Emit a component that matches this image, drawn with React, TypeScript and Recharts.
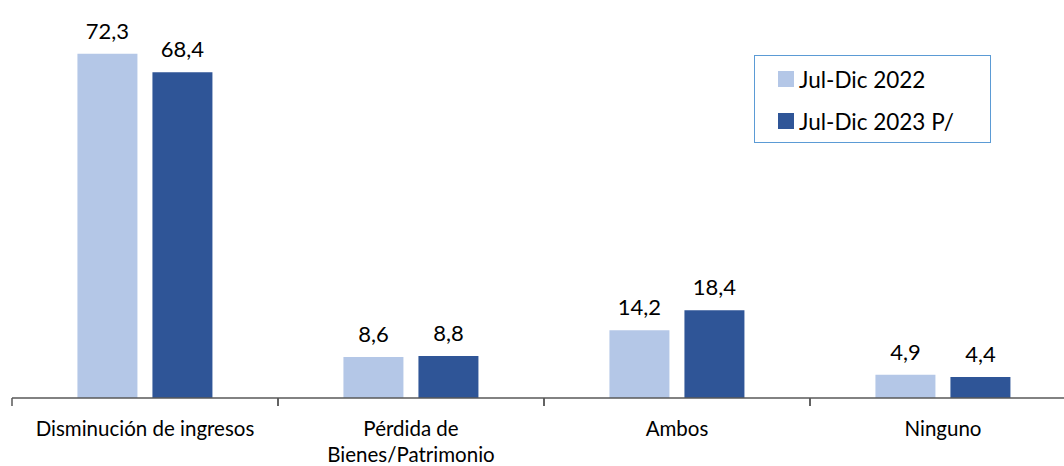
import { BarChart, Bar, XAxis, YAxis, LabelList } from "recharts";

const categories = [
  "Disminución de ingresos",
  "Pérdida de\nBienes/Patrimonio",
  "Ambos",
  "Ninguno",
];
const serie2022 = [72.3, 8.6, 14.2, 4.9];
const serie2023 = [68.4, 8.8, 18.4, 4.4];
const seriesNames = ["Jul-Dic 2022", "Jul-Dic 2023 P/"];
const seriesColors = ["#b4c7e7", "#2f5597"];

const data = categories.map((c, i) => ({
  cat: c,
  a: serie2022[i],
  b: serie2023[i],
}));

const FONT = "Lato, 'Open Sans', sans-serif";
const BAND = 266;

const fmt = (v: any) => String(v).replace(".", ",");

function CatTick(props: any) {
  const { x, y, payload } = props;
  const lines = String(payload.value).split("\n");
  return (
    <g>
      <line x1={x - BAND / 2} y1={y - 8} x2={x - BAND / 2} y2={y} stroke="#595959" strokeWidth={1.5} />
      <line x1={x + BAND / 2} y1={y - 8} x2={x + BAND / 2} y2={y} stroke="#595959" strokeWidth={1.5} />
      {lines.map((l, i) => (
        <text
          key={i}
          x={x}
          y={y + 30 + i * 26}
          textAnchor="middle"
          fontSize={20.5}
          fontFamily={FONT}
          fill="#000"
        >
          {l}
        </text>
      ))}
    </g>
  );
}

function LegendBox() {
  return (
    <div
      style={{
        position: "absolute",
        left: 754,
        top: 55,
        border: "1.5px solid #5b9bd5",
        width: 237,
        height: 88,
        boxSizing: "border-box",
        paddingLeft: 23,
        paddingTop: 10,
        fontFamily: FONT,
        fontSize: 22.5,
        color: "#000",
        background: "#fff",
      }}
    >
      {seriesNames.map((n, i) => (
        <div key={i} style={{ display: "flex", alignItems: "center", height: 26, marginBottom: i === 0 ? 16 : 0 }}>
          <span style={{ width: 16, height: 16, background: seriesColors[i], display: "inline-block", marginRight: 5 }} />
          <span>{n}</span>
        </div>
      ))}
    </div>
  );
}

export default function App() {
  return (
    <div style={{ position: "absolute", left: 0, top: 0, width: 1064, height: 466, overflow: "hidden", background: "#fff" }}>
      <BarChart
        width={1088}
        height={466}
        data={data}
        margin={{ top: 17, right: 12, bottom: 0, left: 12 }}
        barCategoryGap="24.6%"
        barGap={15}
      >
        <XAxis
          dataKey="cat"
          interval={0}
          tickLine={false}
          axisLine={{ stroke: "#595959", strokeWidth: 1.5 }}
          tick={<CatTick />}
          height={68}
        />
        <YAxis hide domain={[0, 80]} />
        <Bar dataKey="a" name={seriesNames[0]} fill={seriesColors[0]} isAnimationActive={false}>
          <LabelList dataKey="a" position="top" offset={15} formatter={fmt} fill="#000" fontSize={22} fontFamily={FONT} />
        </Bar>
        <Bar dataKey="b" name={seriesNames[1]} fill={seriesColors[1]} isAnimationActive={false}>
          <LabelList dataKey="b" position="top" offset={15} formatter={fmt} fill="#000" fontSize={22} fontFamily={FONT} />
        </Bar>
      </BarChart>
      <LegendBox />
    </div>
  );
}
